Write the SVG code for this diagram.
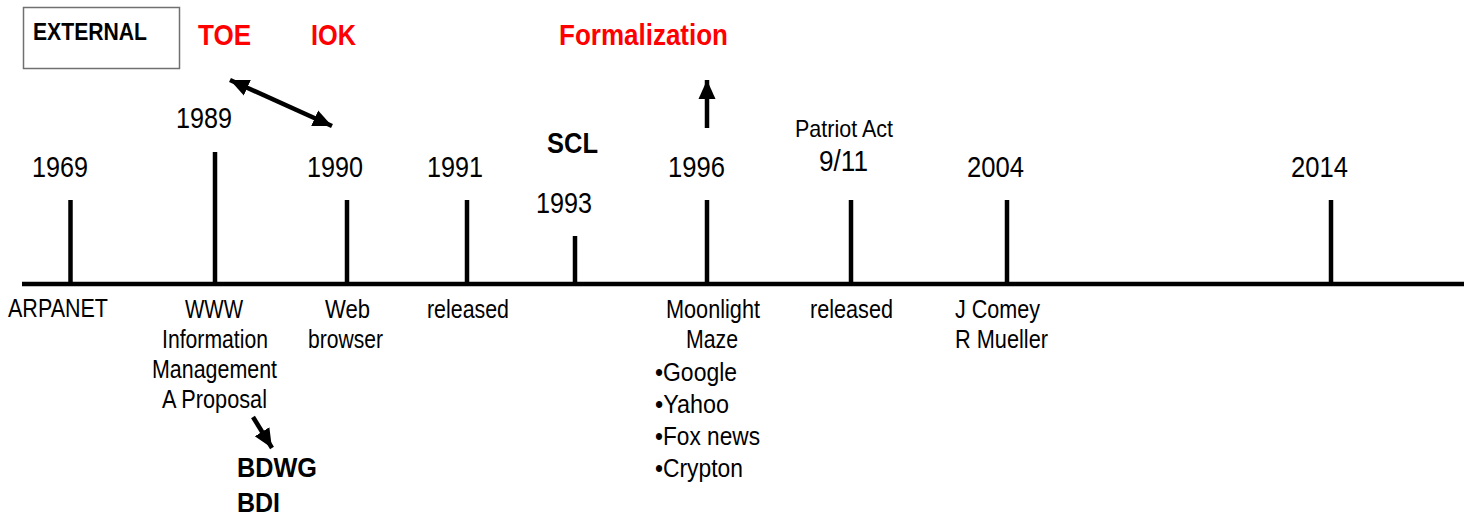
<svg xmlns="http://www.w3.org/2000/svg" width="1469" height="518" viewBox="0 0 1469 518">
<style>
text{font-family:"Liberation Sans",Arial,sans-serif;fill:#000}
.yr{font-size:30px}
.lb{font-size:26px}
.red{font-size:30px;font-weight:bold;fill:#ff0000}
.bd{font-weight:bold}
.tick{stroke:#000;stroke-width:4.5;fill:none}
.conn{stroke:#000;stroke-width:4.5;fill:none}
</style>
<defs>
<marker id="ah" markerUnits="userSpaceOnUse" markerWidth="22" markerHeight="18" refX="19" refY="8.5" orient="auto-start-reverse" viewBox="0 0 22 17">
<path d="M0,0 L19,8.5 L0,17 Z" fill="#000"/>
</marker>
</defs>
<rect width="1469" height="518" fill="#fff"/>

<g id="axis">
<line class="tick" x1="22" y1="284" x2="1464" y2="284"/>
</g>

<g id="external">
<rect x="23.5" y="7.5" width="156" height="61" fill="none" stroke="#707070" stroke-width="1.5"/>
<text x="33" y="40" class="bd" style="font-size:24px" textLength="114" lengthAdjust="spacingAndGlyphs">EXTERNAL</text>
</g>
<g id="toe"><text x="198" y="45" class="red" textLength="53" lengthAdjust="spacingAndGlyphs">TOE</text></g>
<g id="iok"><text x="311" y="45" class="red" textLength="45" lengthAdjust="spacingAndGlyphs">IOK</text></g>
<g id="formalization"><text x="559" y="45" class="red" textLength="169" lengthAdjust="spacingAndGlyphs">Formalization</text></g>

<g id="n1969">
<line class="tick" x1="70.5" y1="200" x2="70.5" y2="284"/>
<text x="32" y="177" class="yr" textLength="56" lengthAdjust="spacingAndGlyphs">1969</text>
<text x="8" y="317" class="lb" textLength="100" lengthAdjust="spacingAndGlyphs">ARPANET</text>
</g>

<g id="n1989">
<line class="tick" x1="215" y1="152" x2="215" y2="284"/>
<text x="176" y="128" class="yr" textLength="56" lengthAdjust="spacingAndGlyphs">1989</text>
<text x="185" y="318" class="lb" textLength="58" lengthAdjust="spacingAndGlyphs">WWW</text>
<text x="162" y="348" class="lb" textLength="106" lengthAdjust="spacingAndGlyphs">Information</text>
<text x="152" y="378" class="lb" textLength="125" lengthAdjust="spacingAndGlyphs">Management</text>
<text x="162" y="408" class="lb" textLength="105" lengthAdjust="spacingAndGlyphs">A Proposal</text>
</g>

<g id="bdwg">
<text x="237" y="477" class="bd" style="font-size:28px" textLength="80" lengthAdjust="spacingAndGlyphs">BDWG</text>
<text x="237" y="512" class="bd" style="font-size:28px" textLength="43" lengthAdjust="spacingAndGlyphs">BDI</text>
</g>

<g id="n1990">
<line class="tick" x1="347" y1="200" x2="347" y2="284"/>
<text x="307" y="177" class="yr" textLength="56" lengthAdjust="spacingAndGlyphs">1990</text>
<text x="325" y="318" class="lb" textLength="45" lengthAdjust="spacingAndGlyphs">Web</text>
<text x="308" y="348" class="lb" textLength="75" lengthAdjust="spacingAndGlyphs">browser</text>
</g>

<g id="n1991">
<line class="tick" x1="467" y1="200" x2="467" y2="284"/>
<text x="427" y="177" class="yr" textLength="56" lengthAdjust="spacingAndGlyphs">1991</text>
<text x="427" y="318" class="lb" textLength="82" lengthAdjust="spacingAndGlyphs">released</text>
</g>

<g id="n1993">
<line class="tick" x1="575" y1="236" x2="575" y2="284"/>
<text x="536" y="213" class="yr" textLength="56" lengthAdjust="spacingAndGlyphs">1993</text>
<text x="547" y="153" class="bd" style="font-size:29px" textLength="51" lengthAdjust="spacingAndGlyphs">SCL</text>
</g>

<g id="n1996">
<line class="tick" x1="707" y1="200" x2="707" y2="284"/>
<text x="668" y="177" class="yr" textLength="57" lengthAdjust="spacingAndGlyphs">1996</text>
<text x="666" y="318" class="lb" textLength="94" lengthAdjust="spacingAndGlyphs">Moonlight</text>
<text x="686" y="348" class="lb" textLength="52" lengthAdjust="spacingAndGlyphs">Maze</text>
<text x="655" y="381" class="lb" textLength="82" lengthAdjust="spacingAndGlyphs">•Google</text>
<text x="655" y="413" class="lb" textLength="74" lengthAdjust="spacingAndGlyphs">•Yahoo</text>
<text x="655" y="445" class="lb" textLength="105" lengthAdjust="spacingAndGlyphs">•Fox news</text>
<text x="655" y="477" class="lb" textLength="88" lengthAdjust="spacingAndGlyphs">•Crypton</text>
</g>

<g id="n2001">
<line class="tick" x1="851" y1="200" x2="851" y2="284"/>
<text x="795" y="137" class="lb" style="font-size:24px" textLength="98" lengthAdjust="spacingAndGlyphs">Patriot Act</text>
<text x="819" y="171" class="yr" style="font-size:29px" textLength="49" lengthAdjust="spacingAndGlyphs">9/11</text>
<text x="810" y="318" class="lb" textLength="83" lengthAdjust="spacingAndGlyphs">released</text>
</g>

<g id="n2004">
<line class="tick" x1="1007" y1="200" x2="1007" y2="284"/>
<text x="967" y="177" class="yr" textLength="57" lengthAdjust="spacingAndGlyphs">2004</text>
<text x="955" y="318" class="lb" textLength="85" lengthAdjust="spacingAndGlyphs">J Comey</text>
<text x="955" y="348" class="lb" textLength="93" lengthAdjust="spacingAndGlyphs">R Mueller</text>
</g>

<g id="n2014">
<line class="tick" x1="1331" y1="200" x2="1331" y2="284"/>
<text x="1291" y="177" class="yr" textLength="57" lengthAdjust="spacingAndGlyphs">2014</text>
</g>

<g id="connectors">
<line class="conn" x1="230" y1="80" x2="332" y2="126" marker-start="url(#ah)" marker-end="url(#ah)"/>
<line class="conn" x1="707" y1="128" x2="707" y2="80" marker-end="url(#ah)"/>
<line class="conn" x1="253" y1="417" x2="272" y2="448" marker-end="url(#ah)"/>
</g>
</svg>
